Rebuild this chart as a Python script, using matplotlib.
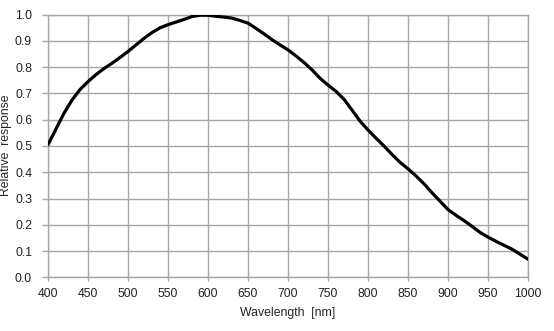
import matplotlib
matplotlib.use("Agg")
import matplotlib.pyplot as plt
import numpy as np

wavelength = [400, 410, 420, 430, 440, 450, 460, 470, 480, 490,
              500, 510, 520, 530, 540, 550, 560, 570, 580, 590,
              600, 610, 620, 630, 640, 650, 660, 670, 680, 690,
              700, 710, 720, 730, 740, 750, 760, 770, 780, 790,
              800, 810, 820, 830, 840, 850, 860, 870, 880, 890,
              900, 910, 920, 930, 940, 950, 960, 970, 980, 990, 1000]
response = [0.505, 0.565, 0.625, 0.675, 0.715, 0.745, 0.772, 0.795, 0.815, 0.837,
            0.860, 0.885, 0.910, 0.932, 0.950, 0.962, 0.972, 0.982, 0.993, 0.998,
            0.998, 0.994, 0.991, 0.987, 0.978, 0.968, 0.948, 0.927, 0.905, 0.885,
            0.866, 0.843, 0.818, 0.790, 0.758, 0.732, 0.708, 0.678, 0.637, 0.595,
            0.561, 0.530, 0.500, 0.468, 0.438, 0.413, 0.386, 0.356, 0.322, 0.290,
            0.258, 0.236, 0.216, 0.194, 0.171, 0.153, 0.137, 0.122, 0.107, 0.088, 0.069]

xticks = list(range(400, 1001, 50))
yticks = [i / 10 for i in range(11)]

plt.rcParams['font.family'] = ['Liberation Sans', 'DejaVu Sans']

W, H = 554, 331
fig = plt.figure(figsize=(W / 100, H / 100), dpi=100)
ax = fig.add_axes([48 / W, (H - 277.3) / H, (528 - 48) / W, (277.3 - 14.7) / H])

grid_c = '#a6a6a6'
txt_c = '#222222'
ax.plot(wavelength, response, color='black', lw=2.3, solid_capstyle='round', zorder=3)
ax.set_xlim(400, 1000)
ax.set_ylim(0, 1.0)
ax.set_xticks(xticks)
ax.set_yticks(yticks)
ax.set_yticklabels([f"{v:.1f}" for v in yticks])
ax.grid(True, color=grid_c, lw=1.0)
for s in ax.spines.values():
    s.set_color(grid_c)
    s.set_linewidth(1.0)
ax.tick_params(axis='x', colors=grid_c, labelcolor=txt_c, labelsize=8.8,
               length=3, width=1.0, pad=4.5)
ax.tick_params(axis='y', colors=grid_c, labelcolor=txt_c, labelsize=8.8,
               length=4, width=1.0, pad=7.5)
ax.set_xlabel('Wavelength  [nm]', fontsize=8.8, color=txt_c, labelpad=5.5)

# y-axis title placed as figure text to match the reference position
fig.text(6.5 / W, (H - 145) / H, 'Relative  response', rotation=90,
         ha='center', va='center', fontsize=8.8, color=txt_c)

fig.savefig('out.png', dpi=100)
